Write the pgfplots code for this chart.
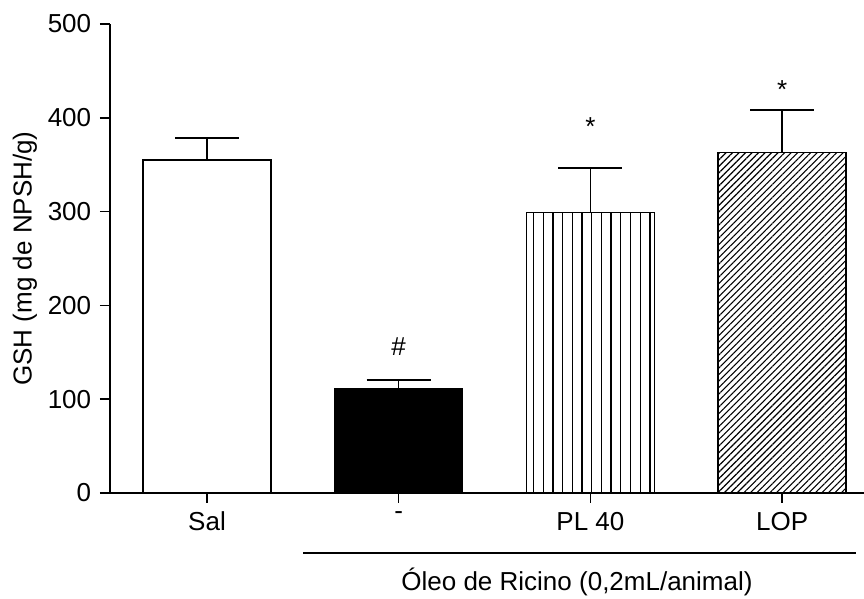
\documentclass[border=0pt]{standalone}
\usepackage{fontspec}
\setmainfont{Liberation Sans}
\usepackage{pgfplots}
\pgfplotsset{compat=1.18}
\usetikzlibrary{patterns.meta}
\begin{document}
\fontsize{26}{31}\selectfont
\begin{tikzpicture}[font=\fontsize{26}{31}\selectfont]
\useasboundingbox (-110pt,-106pt) rectangle (754pt,493pt);
\begin{axis}[
  at={(0,0)}, anchor=south west,
  scale only axis, width=754pt, height=469pt,
  xmin=-0.506, xmax=3.427, ymin=0, ymax=500,
  axis x line=bottom, axis y line=left,
  axis line style={line width=1.8pt, -},
  ytick={0,100,...,500},
  xtick={0,1,2,3}, xticklabels={Sal,-,PL 40,LOP},
  tick align=outside, major tick length=10pt,
  tick style={line width=1.5pt, black},
  /pgf/number format/assume math mode=true,
  ylabel={GSH (mg de NPSH/g)},
  ylabel style={at={(axis description cs:-0.113,0.5)}, anchor=center},
  ybar, bar width=128pt, bar shift=0pt,
  clip=false,
  error bars/y dir=plus, error bars/y explicit,
  error bars/error mark=-,
  error bars/error mark options={rotate=90, line width=2pt, mark size=32pt, black},
  error bars/error bar style={line width=1.5pt, black},
]
\addplot[fill=white, draw=black, line width=1.5pt] coordinates {(0,355) +- (0,23)};
\addplot[fill=black, draw=black, line width=1.5pt] coordinates {(1,111) +- (0,9.5)};
\addplot[pattern={Lines[angle=90,distance=9.7pt,line width=1.3pt]}, draw=black, line width=1.5pt] coordinates {(2,299) +- (0,48)};
\addplot[pattern={Lines[angle=45,distance=4.6pt,line width=1.1pt]}, draw=black, line width=1.5pt] coordinates {(3,363) +- (0,45)};
\node[anchor=base] at (axis cs:1,147) {\#};
\node[anchor=base] at (axis cs:2,381) {*};
\node[anchor=base] at (axis cs:3,421) {*};
\end{axis}
\draw[line width=1.5pt] (193pt,-60pt) -- (746pt,-60pt);
\node[anchor=base] at (467pt,-97pt) {Óleo de Ricino (0,2mL/animal)};
\end{tikzpicture}
\end{document}
